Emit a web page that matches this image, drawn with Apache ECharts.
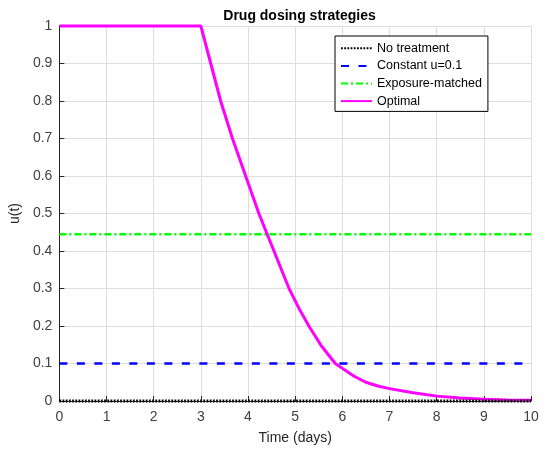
<!DOCTYPE html>
<html>
<head>
<meta charset="utf-8">
<script src="https://cdn.jsdelivr.net/npm/echarts@6/dist/echarts.min.js"></script>
<style>html,body{margin:0;padding:0;background:#fff;}#c{width:550px;height:455px;}</style>
</head>
<body>
<div id="c"></div>
<script>
var titleText = 'Drug dosing strategies';
var xName = 'Time (days)';
var yName = 'u(t)';
var seriesNames = ['No treatment', 'Constant u=0.1', 'Exposure-matched', 'Optimal'];
var flatT = [0, 10];
var noTreatU = [0, 0];
var constU = [0.1, 0.1];
var exposureU = [0.445, 0.445];
var optT = [0, 3, 3.21, 3.42, 3.67, 3.95, 4.23, 4.55, 4.87, 5.08, 5.29, 5.55, 5.85, 6, 6.25, 6.5, 6.75, 7, 7.5, 8, 8.5, 9, 9.5, 10];
var optU = [1, 1, 0.9, 0.8, 0.7, 0.6, 0.5, 0.4, 0.3, 0.247, 0.2, 0.148, 0.1, 0.087, 0.066, 0.05, 0.04, 0.033, 0.022, 0.013, 0.008, 0.005, 0.003, 0.002];

function pairs(xs, ys) { return xs.map(function (x, i) { return [x, ys[i]]; }); }

var font = 'Arial, "Liberation Sans", Helvetica, sans-serif';
var chart = echarts.init(document.getElementById('c'), null, { renderer: 'canvas' });
chart.setOption({
  animation: false,
  backgroundColor: '#ffffff',
  title: {
    text: titleText, left: 294.5, textAlign: 'center', top: 4,
    textStyle: { fontFamily: font, fontSize: 14, fontWeight: 'bold', color: '#000' }
  },
  grid: { left: 58, right: 19, top: 26, bottom: 54, containLabel: false },
  legend: {
    orient: 'vertical', left: 335, top: 36,
    itemWidth: 31, itemHeight: 10, itemGap: 3,
    padding: [5, 6, 3, 5],
    borderColor: '#000', borderWidth: 1, backgroundColor: '#fff',
    itemStyle: { opacity: 0 },
    textStyle: { fontFamily: font, fontSize: 12.5, color: '#000', lineHeight: 14.6 },
    data: seriesNames
  },
  xAxis: {
    type: 'value', min: 0, max: 10, interval: 1,
    name: xName, nameLocation: 'middle', nameGap: 30,
    nameTextStyle: { fontFamily: font, fontSize: 14, color: '#262626' },
    axisLine: { lineStyle: { color: '#262626', width: 1 } },
    axisTick: { inside: true, length: 5, lineStyle: { color: '#262626' } },
    axisLabel: { fontFamily: font, fontSize: 14, color: '#404040', margin: 9 },
    splitLine: { show: true, lineStyle: { color: '#dedede', width: 1 } }
  },
  yAxis: {
    type: 'value', min: 0, max: 1, interval: 0.1,
    name: yName, nameLocation: 'middle', nameGap: 28, nameRotate: 90,
    nameTextStyle: { fontFamily: font, fontSize: 14, color: '#262626' },
    axisLine: { show: true, lineStyle: { color: '#262626', width: 1 } },
    axisTick: { show: true, inside: true, length: 5, lineStyle: { color: '#262626' } },
    axisLabel: { fontFamily: font, fontSize: 14, color: '#404040', margin: 7 },
    splitLine: { show: true, lineStyle: { color: '#dedede', width: 1 } }
  },
  series: [
    { name: seriesNames[0], type: 'line', data: pairs(flatT, noTreatU), symbol: 'none', clip: false, z: 5,
      lineStyle: { color: '#000', width: 3, type: [1.8, 1.4] }, itemStyle: { color: '#000' } },
    { name: seriesNames[1], type: 'line', data: pairs(flatT, constU), symbol: 'none', clip: false,
      lineStyle: { color: '#0000ff', width: 2.5, type: [8, 9.5] }, itemStyle: { color: '#0000ff' } },
    { name: seriesNames[2], type: 'line', data: pairs(flatT, exposureU), symbol: 'none', clip: false,
      lineStyle: { color: '#00ff00', width: 2.5, type: [7, 3, 2, 3] }, itemStyle: { color: '#00ff00' } },
    { name: seriesNames[3], type: 'line', data: pairs(optT, optU), symbol: 'none', clip: false,
      lineStyle: { color: '#ff00ff', width: 3 }, itemStyle: { color: '#ff00ff' } }
  ]
});
</script>
</body>
</html>
